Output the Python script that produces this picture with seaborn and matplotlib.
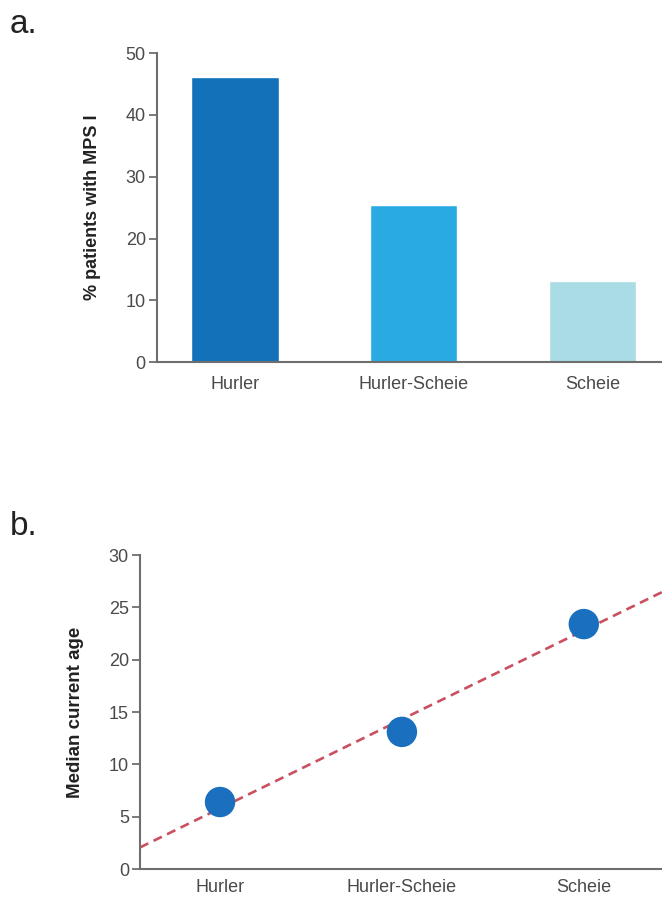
import numpy as np
import pandas as pd
import seaborn as sns
import matplotlib.pyplot as plt

# Data
types = ["Hurler", "Hurler-Scheie", "Scheie"]
pct_patients = [46.1, 25.5, 13.2]
median_age = [6.4, 13.1, 23.4]

bar_cols = ["#1271b9", "#29abe2", "#a9dce4"]
dot_col = "#1a6fbe"
line_col = "#c9505f"
spine_col = "#6e6e6e"
tick_col = "#4a4a4a"

sns.set_theme(style="white")
plt.rcParams["font.family"] = ["Liberation Sans", "DejaVu Sans"]

fig = plt.figure(figsize=(6.62, 9.01), dpi=100)
ax1 = fig.add_axes([0.237, 0.598, 0.763, 0.343])
ax2 = fig.add_axes([0.2115, 0.0355, 0.7885, 0.3485])

# ---------------- a. bar chart ---------------- #
df_a = pd.DataFrame({"type": types, "pct": pct_patients})
sns.barplot(data=df_a, x="type", y="pct", hue="type", palette=bar_cols,
            width=0.49, legend=False, saturation=1, ax=ax1)
ax1.set_xlim(-0.436, 2.39)
ax1.set_ylim(0, 50)
ax1.set_yticks(range(0, 51, 10))
ax1.set_xlabel("")
ax1.set_ylabel("% patients with MPS I", fontsize=13, fontweight="bold",
               color="#222222", labelpad=18)

# ---------------- b. scatter + trend ---------------- #
xpos = np.arange(len(types))
ax2.set_xlim(-0.44, 2.43)
ax2.set_ylim(0, 30)
sns.regplot(x=xpos, y=median_age, ci=None, truncate=False, scatter=False,
            line_kws=dict(color=line_col, lw=1.9, ls=(0, (3.5, 2.2))), ax=ax2)
sns.scatterplot(x=xpos, y=median_age, s=480, color=dot_col, edgecolor="none",
                zorder=5, ax=ax2)
ax2.set_xticks(xpos)
ax2.set_xticklabels(types)
ax2.set_yticks(range(0, 31, 5))
ax2.set_ylabel("Median current age", fontsize=13.5, fontweight="bold",
               color="#222222", labelpad=18)

for ax in (ax1, ax2):
    sns.despine(ax=ax)
    for s in ("left", "bottom"):
        ax.spines[s].set_color(spine_col)
        ax.spines[s].set_linewidth(1.5)
    ax.tick_params(axis="y", direction="out", length=6, width=1.3,
                   color=spine_col, labelsize=13, labelcolor=tick_col, pad=2,
                   left=True)
    ax.tick_params(axis="x", length=0, labelsize=13, labelcolor=tick_col, pad=10)
    ax.set_clip_on(False)
ax2.tick_params(axis="x", pad=7)

lab_font = ["Liberation Sans Narrow", "Liberation Sans", "DejaVu Sans"]
fig.text(0.015, 0.963, "a.", fontsize=24, color="#222222", family=lab_font)
fig.text(0.015, 0.406, "b.", fontsize=24, color="#222222", family=lab_font)

fig.savefig("out.png", dpi=100)
